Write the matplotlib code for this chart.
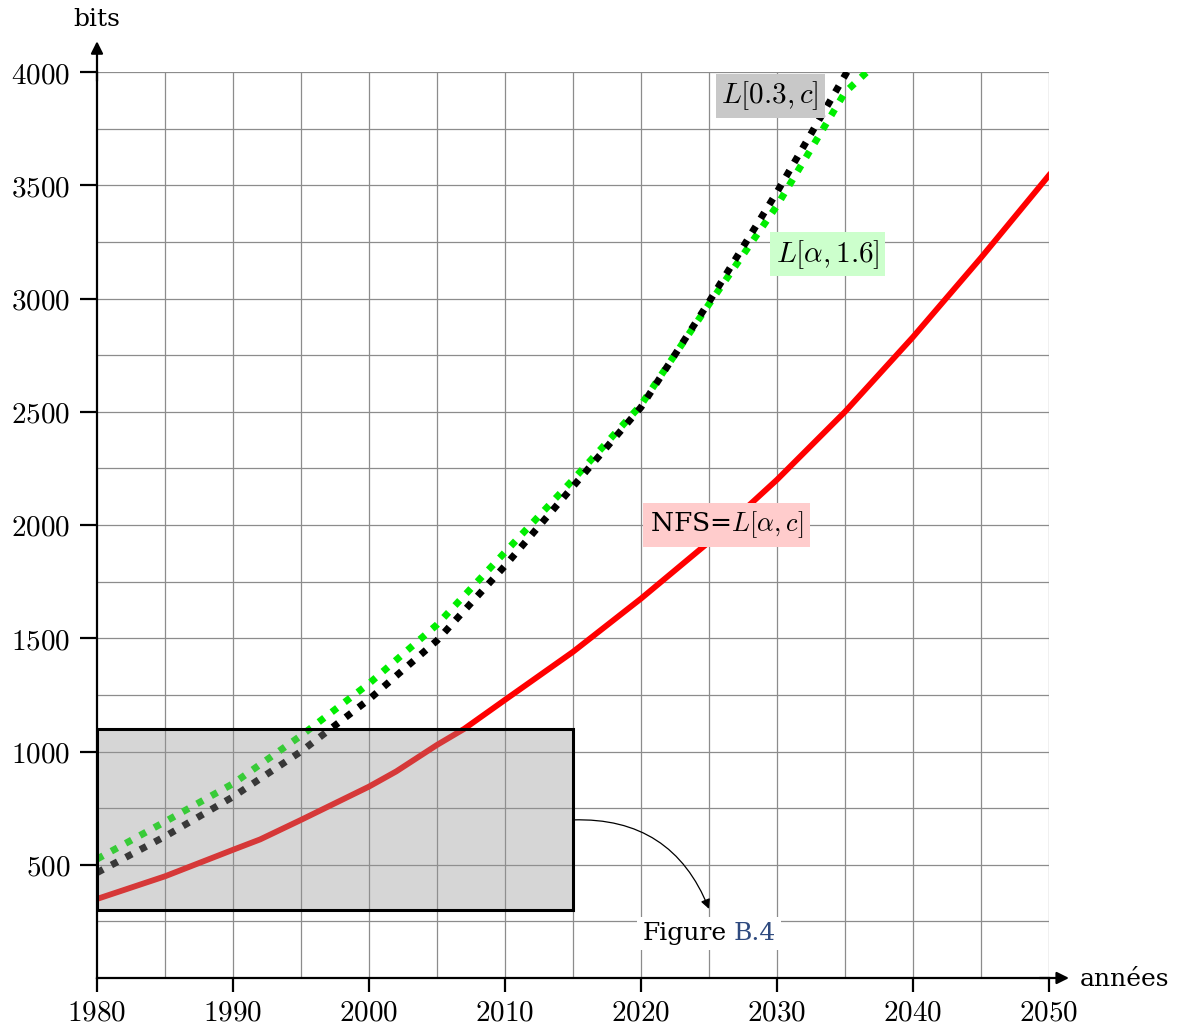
import matplotlib
matplotlib.use('Agg')
import matplotlib.pyplot as plt
from matplotlib.patches import Rectangle
from matplotlib.offsetbox import TextArea, HPacker, AnnotationBbox
import numpy as np

plt.rcParams['mathtext.fontset'] = 'cm'
plt.rcParams['font.family'] = 'DejaVu Serif'

# --- data ---
nfs_years = [1980, 1985, 1990, 1992, 1995, 2000, 2002, 2005, 2007, 2010,
             2015, 2020, 2025, 2030, 2035, 2040, 2045, 2050]
nfs = [349, 449, 566, 612, 698, 845, 912, 1029, 1100, 1228,
       1440, 1675, 1925, 2200, 2500, 2830, 3180, 3544]

l_years = [1980, 1985, 1990, 1995, 2000, 2005, 2010, 2015, 2020, 2025, 2030, 2035, 2040]
l03c = [465, 625, 800, 1000, 1230, 1490, 1820, 2170, 2520, 2985, 3470, 3985, 4500]
l16 = [525, 690, 858, 1070, 1300, 1560, 1880, 2200, 2530, 2975, 3410, 3910, 4190]

x_ticks = [1980, 1990, 2000, 2010, 2020, 2030, 2040, 2050]
y_ticks = [500, 1000, 1500, 2000, 2500, 3000, 3500, 4000]

zoom_box = (1980, 300, 2015, 1100)  # x0, y0, x1, y1

fig = plt.figure(figsize=(11.78, 10.28), dpi=100)
ax = fig.add_axes([97 / 1178, 50 / 1028, 952 / 1178, 906 / 1028])
ax.set_xlim(1980, 2050)
ax.set_ylim(0, 4000)

# grid
for gx in np.arange(1985, 2051, 5):
    ax.axvline(gx, color='#8c8c8c', lw=0.9, zorder=1)
for gy in np.arange(250, 4001, 250):
    ax.axhline(gy, color='#8c8c8c', lw=0.9, zorder=1)

# curves
ax.plot(nfs_years, nfs, color='#ff0000', lw=4.2, zorder=3, solid_joinstyle='round')
ax.plot(l_years, l16, color='#00ee00', lw=5.0, zorder=3, dashes=(1.0, 1.35), dash_capstyle='butt')
ax.plot(l_years, l03c, color='black', lw=5.0, zorder=3, dashes=(1.0, 1.35), dash_capstyle='butt')

# shaded zoom rectangle
x0, y0, x1, y1 = zoom_box
ax.add_patch(Rectangle((x0, y0), x1 - x0, y1 - y0, facecolor=(0.58, 0.58, 0.58, 0.38),
                       edgecolor='black', lw=2.2, zorder=4))

# labels on curves
ax.text(2029.5, 3895, r'$L[0.3,c]$', fontsize=21, ha='center', va='center', zorder=6,
        bbox=dict(facecolor='#c8c8c8', edgecolor='none', pad=4))
ax.text(2033.7, 3195, r'$L[\alpha,1.6]$', fontsize=21, ha='center', va='center', zorder=6,
        bbox=dict(facecolor='#ccffcc', edgecolor='none', pad=4))
ax.text(2026.3, 2000, r'NFS=$L[\alpha,c]$', fontsize=19, ha='center', va='center', zorder=6,
        bbox=dict(facecolor='#ffcccc', edgecolor='none', pad=5))

# Figure B.4 label with arrow
lab = HPacker(children=[TextArea('Figure', textprops=dict(color='black', fontsize=18)),
                        TextArea('B.4', textprops=dict(color='#2e4a7f', fontsize=18))],
              sep=5, align='baseline', pad=0)
ab = AnnotationBbox(lab, (2025, 195), frameon=True, pad=0.35, zorder=6,
                    bboxprops=dict(facecolor='white', edgecolor='none'))
ax.add_artist(ab)
ax.annotate('', xy=(2025, 305), xytext=(2015, 698), zorder=6,
            arrowprops=dict(arrowstyle='-|>', color='black', lw=0.9, mutation_scale=14,
                            shrinkA=0, shrinkB=0, connectionstyle='arc3,rad=-0.35'))

# axes
for s in ['top', 'right']:
    ax.spines[s].set_visible(False)
for s in ['left', 'bottom']:
    ax.spines[s].set_linewidth(1.6)
    ax.spines[s].set_zorder(5)
ax.annotate('', xy=(0, 1.034), xytext=(0, 0.99), xycoords='axes fraction',
            arrowprops=dict(arrowstyle='-|>', color='black', lw=1.6, mutation_scale=18,
                            shrinkA=0, shrinkB=0))
ax.annotate('', xy=(1.021, 0), xytext=(0.99, 0), xycoords='axes fraction',
            arrowprops=dict(arrowstyle='-|>', color='black', lw=1.6, mutation_scale=18,
                            shrinkA=0, shrinkB=0))

ax.set_xticks(x_ticks)
ax.set_yticks(y_ticks)
ax.set_xticklabels([f'${v}$' for v in x_ticks], fontsize=21)
ax.set_yticklabels([f'${v}$' for v in y_ticks], fontsize=21)
ax.tick_params(axis='y', direction='out', length=12, width=1.6, pad=7)
ax.tick_params(axis='x', direction='out', length=10, width=1.6, pad=5)

fig.text(97 / 1178, 1 - 20 / 1028, 'bits', fontsize=18, ha='center', va='center')
fig.text(1080 / 1178, 1 - 980 / 1028, 'années', fontsize=18, ha='left', va='center')

fig.savefig('out.png', dpi=100)
